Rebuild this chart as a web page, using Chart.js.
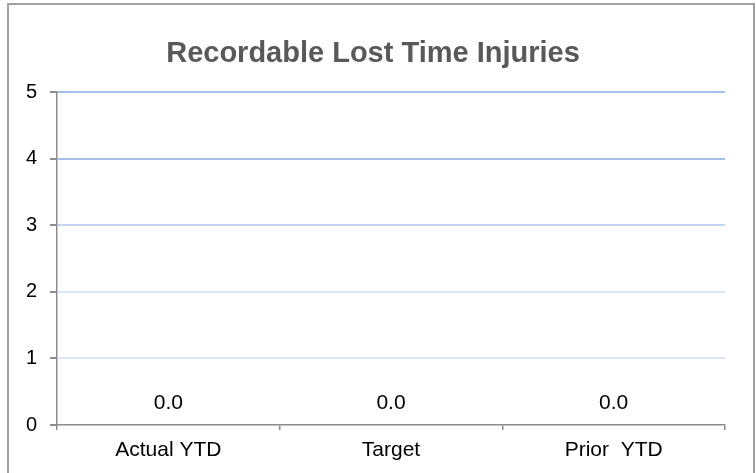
<!DOCTYPE html>
<html>
<head>
<meta charset="utf-8">
<script src="https://cdn.jsdelivr.net/npm/chart.js@4/dist/chart.umd.min.js"></script>
<style>
  html, body { margin: 0; padding: 0; background: #ffffff; overflow: hidden; }
  #wrap { position: relative; width: 756px; height: 473px; overflow: hidden; }
  #frame { position: absolute; left: 7px; top: 3px; width: 744px; height: 490px; border: 2px solid #a0a0a0; box-sizing: content-box; }
  #c { position: absolute; left: 0; top: 0; }
</style>
</head>
<body>
<div id="wrap">
  <div id="frame"></div>
  <canvas id="c" width="756" height="473"></canvas>
</div>
<script>
const categories = ["Actual YTD", "Target", "Prior  YTD"];
const injuries = [0, 0, 0];
const yTicks = [0, 1, 2, 3, 4, 5];

const FONT = "'Liberation Sans', Arial, sans-serif";

const valueLabels = {
  id: 'valueLabels',
  afterDatasetsDraw(chart) {
    const ctx = chart.ctx;
    const meta = chart.getDatasetMeta(0);
    ctx.save();
    ctx.font = "21px " + FONT;
    ctx.fillStyle = "#000000";
    ctx.textAlign = "center";
    ctx.textBaseline = "alphabetic";
    meta.data.forEach((el, i) => {
      const v = chart.data.datasets[0].data[i];
      ctx.fillText(v.toFixed(1), el.x, el.y - 16);
    });
    ctx.restore();
  }
};

function gridColor(ctx) {
  const v = ctx.tick ? ctx.tick.value : 0;
  if (v === 0) return 'rgba(0,0,0,0)';
  if (v >= 4) return '#a3bfe8';
  if (v === 3) return '#c2d4f0';
  return '#dae5f5';
}

new Chart(document.getElementById('c'), {
  type: 'bar',
  data: {
    labels: categories,
    datasets: [{
      data: injuries,
      backgroundColor: '#4f81bd',
      borderWidth: 0
    }]
  },
  plugins: [valueLabels],
  options: {
    responsive: false,
    animation: false,
    devicePixelRatio: 1,
    layout: { padding: { left: 21, right: 31, top: 0, bottom: 0 } },
    plugins: {
      legend: { display: false },
      tooltip: { enabled: false },
      title: {
        display: true,
        text: 'Recordable Lost Time Injuries',
        color: '#595959',
        font: { family: FONT, size: 29, weight: 'bold', lineHeight: 1.2 },
        padding: { top: 37, bottom: 20.2 }
      }
    },
    scales: {
      x: {
        offset: true,
        grid: {
          display: true,
          offset: true,
          drawOnChartArea: false,
          drawTicks: true,
          tickLength: 5,
          color: '#8c8c8c',
          tickColor: '#8c8c8c',
          lineWidth: 1.5
        },
        border: { display: true, color: '#8c8c8c', width: 1.5 },
        ticks: {
          color: '#000000',
          font: { family: FONT, size: 21 },
          padding: 8,
          maxRotation: 0,
          autoSkip: false
        },
        afterFit(scale) { scale.height = 48; }
      },
      y: {
        min: 0,
        max: 5,
        afterBuildTicks(scale) { scale.ticks = yTicks.map(v => ({ value: v })); },
        grid: {
          color: gridColor,
          tickColor: '#8c8c8c',
          tickLength: 7,
          lineWidth: 2
        },
        border: { display: true, color: '#8c8c8c', width: 1.5 },
        ticks: {
          color: '#000000',
          font: { family: FONT, size: 20 },
          padding: 13,
          callback: (v) => String(v)
        },
        afterFit(scale) { scale.width = 36; }
      }
    }
  }
});
</script>
</body>
</html>
